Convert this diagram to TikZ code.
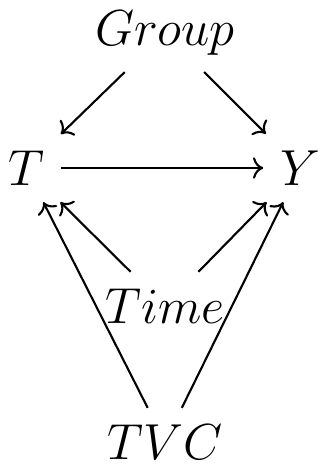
\documentclass[tikz,border=0pt]{standalone}
\usepackage{amsmath,amssymb}
\usepackage{tikz}
\usetikzlibrary{arrows.meta}

\begin{document}
\begin{tikzpicture}[
  x=0.01cm,y=-0.01cm,
  var/.style={font=\fontsize{13.8pt}{16pt}\selectfont,inner sep=4.6pt},
  edge/.style={->,semithick}
]
\useasboundingbox (0,0) rectangle (324,465);

%------ variables -------------------------------------------------------------
\node[var] (grp)  at (165,33)  {$Group$};
\node[var] (trt)  at (26,168)  {$T$};
\node[var] (out)  at (300,168) {$Y$};
\node[var] (time) at (165,306) {$Time$};
\node[var] (tvc)  at (165,442) {$TVC$};

%------ arrows ------------------------------------------------------------------
\draw[edge] (grp) -- (trt);
\draw[edge] (grp) -- (out);
\draw[edge] (trt) -- (out);
\draw[edge] (time) -- (trt);
\draw[edge] (time) -- (out);
\draw[edge] (tvc) -- (trt);
\draw[edge] (tvc) -- (out);
\end{tikzpicture}
\end{document}
